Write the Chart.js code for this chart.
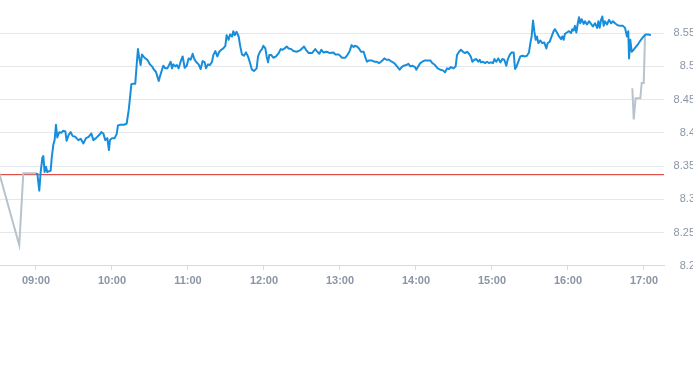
<!DOCTYPE html>
<html lang="zh">
<head>
  <meta charset="UTF-8">
  <title>分时图</title>
  <script src="https://cdn.jsdelivr.net/npm/chart.js"></script>
  <style>
    html, body { margin: 0; padding: 0; background: #fff; overflow: hidden; }
    .chart-box { width: 695px; height: 288px; position: relative; }
  </style>
</head>
<body>
<div class="chart-box">
  <canvas id="myChart"></canvas>
</div>
<script>
  // minutes after 09:00 and price
  const blueMinutes = [
    0.0, 1.1, 2.6, 3.7, 5.0, 5.8, 6.8, 7.9, 8.9, 10.0, 11.6, 12.4, 13.7, 14.7, 15.8, 16.8, 18.4, 20.0, 21.6, 23.2,
    24.2, 25.8, 27.4, 29.0, 31.1, 33.4, 35.3, 37.4, 39.5, 41.6, 43.7, 45.3, 47.4, 50.0, 51.6, 53.2, 54.7, 56.3, 57.6, 58.4,
    60.0, 62.1, 63.7, 64.7, 66.3, 69.5, 71.6, 73.2, 74.2, 75.3, 76.8, 78.4, 79.5, 80.5, 81.6, 82.6, 83.7, 84.7, 86.3, 87.9,
    90.0, 91.6, 93.2, 94.7, 95.8, 96.9, 97.9, 99.5, 100.5, 102.1, 103.7, 105.3, 106.3, 107.4, 108.4, 110.0, 111.1, 112.6, 114.2, 115.8,
    117.4, 119.0, 120.5, 122.1, 123.7, 124.8, 126.3, 128.4, 130.0, 131.6, 133.2, 134.2, 135.8, 137.4, 139.0, 140.0, 141.6, 143.2, 144.7, 146.3,
    147.9, 149.5, 150.5, 152.1, 153.2, 154.8, 155.8, 156.9, 158.4, 160.0, 161.1, 162.6, 164.2, 165.8, 167.4, 169.0, 170.5, 172.1, 174.2, 175.3,
    176.8, 178.4, 179.5, 181.1, 182.1, 183.2, 184.2, 185.8, 187.4, 189.5, 191.6, 193.2, 194.8, 196.3, 197.9, 199.5, 201.6, 203.2, 205.8, 208.4,
    210.0, 211.6, 213.2, 215.3, 217.9, 220.5, 222.1, 223.7, 225.3, 226.9, 229.5, 232.1, 234.8, 236.4, 239.0, 241.6, 244.2, 245.8, 247.4, 249.2,
    250.8, 251.8, 253.4, 255.0, 256.6, 258.7, 260.3, 261.3, 262.9, 265.0, 267.1, 269.2, 270.8, 272.4, 274.0, 275.0, 276.6, 278.7, 280.8, 282.9,
    285.0, 287.1, 288.7, 290.3, 292.4, 294.0, 295.5, 297.1, 299.2, 300.3, 301.8, 303.4, 305.0, 307.1, 309.7, 311.3, 312.9, 315.0, 317.1, 319.2,
    321.3, 322.9, 324.5, 326.1, 327.6, 329.7, 331.3, 332.4, 334.0, 335.5, 337.1, 338.7, 340.3, 341.9, 343.4, 344.5, 346.1, 347.6, 349.2, 350.3,
    351.3, 352.9, 354.5, 356.1, 357.6, 359.2, 360.8, 361.9, 363.4, 365.0, 366.6, 368.2, 369.7, 371.3, 372.4, 373.9, 375.5, 377.1, 378.2, 379.2,
    380.8, 382.4, 384.0, 386.1, 387.6, 389.2, 390.3, 391.3, 392.4, 393.4, 394.5, 395.5, 396.6, 398.2, 399.7, 401.3, 402.9, 404.0, 405.5, 407.1,
    408.7, 409.7, 411.3, 412.9, 414.5, 415.5, 416.6, 417.6, 419.2, 420.8, 422.4, 423.4, 424.5, 425.5, 426.6, 427.6, 428.7, 429.7, 430.8, 432.4,
    433.4, 435.0, 436.6, 438.2, 439.7, 441.3, 443.0, 444.0, 445.0, 446.1, 447.1, 448.2, 449.2, 450.8, 452.4, 454.0, 455.5, 457.1, 459.2, 461.3,
    463.4, 465.0, 466.6, 467.6, 468.2, 469.2, 470.3, 471.8, 473.4, 475.5, 477.6, 479.7, 481.3, 483.4, 485.5
  ];
  const blueValues = [
    8.339, 8.338, 8.313, 8.341, 8.362, 8.365, 8.341, 8.349, 8.341, 8.342, 8.343, 8.362, 8.382, 8.389, 8.412, 8.393, 8.401, 8.400, 8.403, 8.402,
    8.388, 8.397, 8.401, 8.395, 8.394, 8.389, 8.391, 8.384, 8.392, 8.394, 8.399, 8.389, 8.392, 8.397, 8.401, 8.399, 8.389, 8.392, 8.374, 8.389,
    8.392, 8.392, 8.398, 8.411, 8.412, 8.412, 8.414, 8.434, 8.452, 8.473, 8.474, 8.474, 8.502, 8.526, 8.512, 8.502, 8.518, 8.515, 8.512, 8.510,
    8.503, 8.500, 8.495, 8.492, 8.485, 8.478, 8.485, 8.495, 8.501, 8.497, 8.497, 8.503, 8.507, 8.497, 8.503, 8.500, 8.502, 8.497, 8.507, 8.515,
    8.498, 8.501, 8.512, 8.510, 8.519, 8.512, 8.507, 8.503, 8.496, 8.508, 8.506, 8.497, 8.503, 8.502, 8.507, 8.517, 8.523, 8.515, 8.522, 8.525,
    8.527, 8.531, 8.547, 8.540, 8.548, 8.545, 8.553, 8.547, 8.552, 8.545, 8.532, 8.518, 8.516, 8.521, 8.515, 8.505, 8.495, 8.493, 8.497, 8.515,
    8.522, 8.526, 8.531, 8.527, 8.515, 8.506, 8.517, 8.517, 8.513, 8.515, 8.520, 8.526, 8.525, 8.527, 8.530, 8.527, 8.526, 8.523, 8.522, 8.524,
    8.527, 8.530, 8.525, 8.520, 8.520, 8.526, 8.522, 8.519, 8.525, 8.521, 8.522, 8.520, 8.521, 8.518, 8.518, 8.513, 8.513, 8.517, 8.522, 8.532,
    8.529, 8.531, 8.530, 8.527, 8.522, 8.522, 8.512, 8.507, 8.509, 8.509, 8.507, 8.507, 8.505, 8.507, 8.510, 8.512, 8.510, 8.510, 8.507, 8.505,
    8.500, 8.495, 8.499, 8.501, 8.502, 8.504, 8.500, 8.501, 8.499, 8.495, 8.500, 8.505, 8.507, 8.509, 8.509, 8.509, 8.505, 8.502, 8.497, 8.495,
    8.494, 8.491, 8.497, 8.496, 8.499, 8.497, 8.500, 8.517, 8.522, 8.525, 8.522, 8.520, 8.522, 8.519, 8.514, 8.507, 8.510, 8.511, 8.507, 8.510,
    8.506, 8.507, 8.505, 8.507, 8.505, 8.506, 8.505, 8.511, 8.507, 8.512, 8.506, 8.511, 8.510, 8.501, 8.510, 8.517, 8.521, 8.521, 8.496, 8.499,
    8.507, 8.515, 8.516, 8.515, 8.516, 8.521, 8.535, 8.545, 8.569, 8.553, 8.540, 8.545, 8.535, 8.539, 8.535, 8.536, 8.527, 8.535, 8.537, 8.545,
    8.553, 8.556, 8.551, 8.545, 8.541, 8.545, 8.540, 8.549, 8.551, 8.553, 8.550, 8.556, 8.554, 8.561, 8.551, 8.563, 8.574, 8.565, 8.571, 8.564,
    8.568, 8.563, 8.568, 8.564, 8.560, 8.565, 8.558, 8.568, 8.558, 8.570, 8.575, 8.561, 8.568, 8.563, 8.570, 8.565, 8.568, 8.565, 8.562, 8.561,
    8.561, 8.558, 8.545, 8.553, 8.512, 8.540, 8.522, 8.525, 8.529, 8.534, 8.540, 8.545, 8.548, 8.548, 8.547
  ];
  const greyMinutes = [-30.0, -13.2, -10.0, 0.0, null, 470.8, 471.9, 473.4, 477.1, 478.2, 479.8, 480.8];
  const greyValues = [8.346, 8.231, 8.339, 8.339, null, 8.467, 8.420, 8.452, 8.452, 8.475, 8.475, 8.546];
  const prevClose = 8.337;
  const xMin = -28.4;
  const xMax = 495.8;
  const yMin = 8.2;
  const yMax = 8.5999;

  const toPoints = (xs, ys) => xs.map((x, i) => ({ x: x, y: ys[i] }));

  const ctx = document.getElementById('myChart').getContext('2d');
  const labelFont = { family: "'Liberation Sans', Arial, Helvetica, sans-serif", size: 11 };

  new Chart(ctx, {
    type: 'line',
    data: {
      datasets: [
        {
          data: toPoints(blueMinutes, blueValues),
          borderColor: '#178edc',
          borderWidth: 2,
          pointRadius: 0,
          tension: 0,
          borderJoinStyle: 'round'
        },
        {
          data: toPoints(greyMinutes, greyValues),
          borderColor: '#b8c3cc',
          borderWidth: 2,
          pointRadius: 0,
          tension: 0,
          spanGaps: false
        },
        {
          data: [{ x: xMin, y: prevClose }, { x: xMax, y: prevClose }],
          borderColor: '#dc2a22',
          borderWidth: 1,
          pointRadius: 0
        }
      ]
    },
    options: {
      animation: false,
      responsive: true,
      maintainAspectRatio: false,
      layout: { padding: 0 },
      plugins: { legend: { display: false }, tooltip: { enabled: false } },
      scales: {
        x: {
          type: 'linear',
          min: xMin,
          max: xMax,
          grid: { drawOnChartArea: false, drawTicks: true, tickLength: 4, color: '#d6dae0' },
          border: { display: true, color: '#d6dae0' },
          ticks: {
            stepSize: 60,
            includeBounds: false,
            padding: 5,
            color: '#8a95a5',
            font: Object.assign({ weight: 'bold' }, labelFont),
            maxRotation: 0,
            callback: v => {
              const m = 540 + v;
              return String(Math.floor(m / 60)).padStart(2, '0') + ':' + String(m % 60).padStart(2, '0');
            }
          },
          afterFit: s => {
            s.height = 22.3;
            s.paddingLeft = 0;
            s.paddingRight = 0;
          }
        },
        y: {
          position: 'right',
          min: yMin,
          max: yMax,
          grid: { drawTicks: false, color: '#e4e7eb' },
          border: { display: false },
          ticks: {
            stepSize: 0.05,
            includeBounds: false,
            padding: 9,
            crossAlign: 'far',
            color: '#8a95a5',
            font: labelFont,
            callback: v => String(Math.round(v * 100) / 100)
          },
          afterFit: s => {
            s.width = 31;
            s.paddingTop = 0;
            s.paddingBottom = 0;
          }
        }
      }
    }
  });
</script>
</body>
</html>
